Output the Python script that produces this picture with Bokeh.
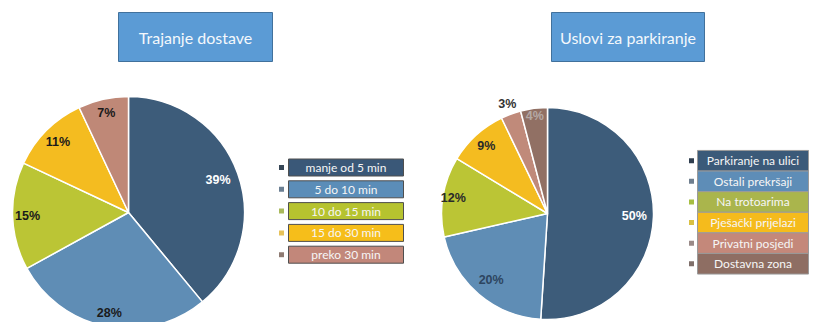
import math
from bokeh.plotting import figure
from bokeh.models import Range1d, ColumnDataSource
from bokeh.core.properties import value
from bokeh.embed import file_html
from bokeh.resources import INLINE

# ---------------- data ----------------
title_left = "Trajanje dostave"
cats_left = ["manje od 5 min", "5 do 10 min", "10 do 15 min", "15 do 30 min", "preko 30 min"]
vals_left = [39, 28, 15, 11, 7]
colors_left = ["#3D5C7A", "#5F8DB5", "#BBC535", "#F4BC20", "#BF8877"]
legend_colors_left = ["#3A5878", "#5B8DB8", "#B6C32F", "#F6BE1A", "#C2877A"]
marker_colors_left = ["#364656", "#6B7F93", "#A9B95C", "#E7C25A", "#8E7A72"]
label_colors_left = ["#FFFFFF", "#1A1A1A", "#1A1A1A", "#1A1A1A", "#1A1A1A"]

title_right = "Uslovi za parkiranje"
cats_right = ["Parkiranje na ulici", "Ostali prekršaji", "Na trotoarima",
              "Pješački prijelazi", "Privatni posjedi", "Dostavna zona"]
vals_right = [50, 20, 12, 9, 3, 4]
colors_right = ["#3D5C7A", "#5F8DB5", "#BBC535", "#F4BC20", "#C08A7A", "#917064"]
legend_colors_right = ["#3B5A79", "#5E8DB7", "#AAB54C", "#F5BB1C", "#C4887A", "#8E6E63"]
marker_colors_right = ["#2F3E4F", "#6F7F8F", "#A6BE42", "#D9C043", "#9A8A88", "#7F6F6A"]
label_colors_right = ["#FFFFFF", "#2D4560", "#2A2A2A", "#2A2A2A", "#333333", "#B4A8A5"]

# ---------------- layout ----------------
W, H = 816, 322
p = figure(width=W, height=H, x_range=Range1d(0, W), y_range=Range1d(0, H),
           output_backend="svg", toolbar_location=None, min_border=0)
p.axis.visible = False
p.grid.visible = False
p.outline_line_color = None
p.background_fill_color = "white"
p.border_fill_color = "white"

LABEL_FONT = value("Liberation Sans")
TEXT_FONT = value("Lato")


def draw_pie(cx, cy, r, vals, colors, label_colors, label_frac):
    total = float(sum(vals))
    starts, ends, lx, ly, texts = [], [], [], [], []
    cum = 0.0
    for i, v in enumerate(vals):
        a0 = math.pi / 2 - 2 * math.pi * cum / total
        cum += v
        a1 = math.pi / 2 - 2 * math.pi * cum / total
        starts.append(a1)
        ends.append(a0)
        mid = (a0 + a1) / 2
        f = label_frac[i]
        lx.append(cx + r * f * math.cos(mid))
        ly.append(cy + r * f * math.sin(mid))
        texts.append(f"{v}%")
    src = ColumnDataSource(dict(s=starts, e=ends, c=colors))
    p.wedge(x=cx, y=cy, radius=r, start_angle="s", end_angle="e", fill_color="c",
            line_color="white", line_width=1.5, direction="anticlock", source=src)
    tsrc = ColumnDataSource(dict(x=lx, y=ly, t=texts, c=label_colors))
    p.text(x="x", y="y", text="t", text_color="c", source=tsrc,
           text_font=LABEL_FONT, text_font_style="bold", text_font_size="12.5px",
           text_align="center", text_baseline="middle")


def draw_title(cx, cy, w, h, txt):
    p.rect(x=cx, y=cy, width=w, height=h, fill_color="#5B9BD5",
           line_color="#41719C", line_width=1)
    p.text(x=[cx], y=[cy], text=[txt], text_color="#F4F8FC", text_font=TEXT_FONT,
           text_font_size="16px", text_align="center", text_baseline="middle")


def draw_legend(bx, bw, y0, pitch, bh, mx, cats, fills, markers, border):
    ys = [y0 - i * pitch for i in range(len(cats))]
    src = ColumnDataSource(dict(y=ys, t=cats, f=fills, m=markers))
    p.rect(x=bx, y="y", width=bw, height=bh, fill_color="f",
           line_color=border, line_width=1, source=src)
    p.rect(x=mx, y="y", width=5, height=5, fill_color="m", line_color=None, source=src)
    p.text(x=bx, y="y", text="t", text_color="#F6F6F6", text_font=TEXT_FONT,
           text_font_size="12px", text_align="center", text_baseline="middle", source=src)


# left chart
draw_title(195, 285.5, 154, 49, title_left)
draw_pie(128, 110, 116, vals_left, colors_left, label_colors_left,
         [0.82, 0.88, 0.87, 0.86, 0.88])
draw_legend(345.5, 115, 155, 21.8, 17, 281, cats_left, legend_colors_left,
            marker_colors_left, "#4F4F4F")

# right chart
draw_title(627.5, 285.5, 153, 49, title_right)
draw_pie(547, 109, 106, vals_right, colors_right, label_colors_right,
         [0.82, 0.82, 0.9, 0.86, 1.1, 0.93])
draw_legend(752.5, 111, 161.75, 20.6, 20.6, 691, cats_right, legend_colors_right,
            marker_colors_right, "#9A9A9A")

open("out.html", "w").write(file_html(p, INLINE))
